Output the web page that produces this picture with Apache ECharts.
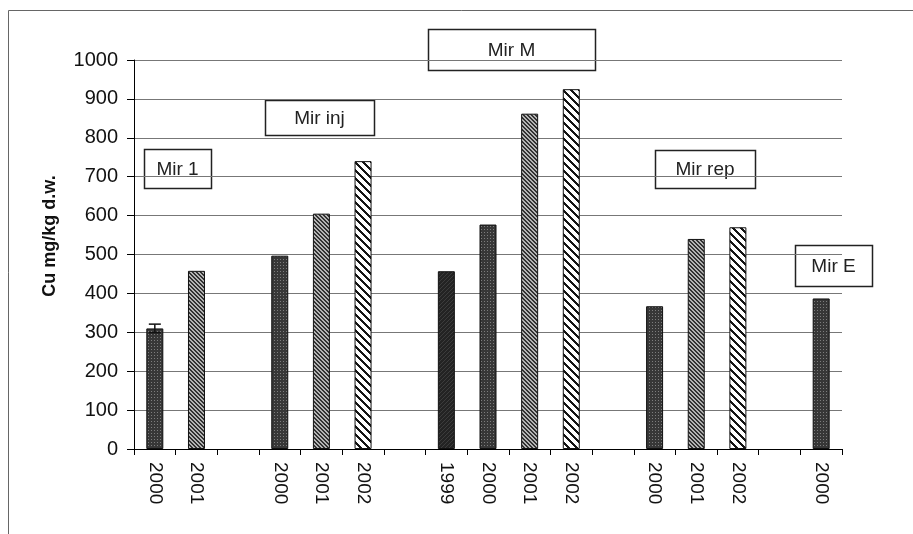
<!DOCTYPE html>
<html><head><meta charset="utf-8">
<script src="https://cdn.jsdelivr.net/npm/echarts@6/dist/echarts.min.js"></script>
<style>html,body{margin:0;padding:0;background:#fff}#c{width:913px;height:534px}</style>
</head><body><div id="c"></div>
<script>
const categories = ['2000','2001','','2000','2001','2002','','1999','2000','2001','2002','','2000','2001','2002','','2000'];
const values = [310,458,null,497,605,740,null,457,577,862,925,null,367,540,570,null,387];
const errorHalf = [11,null,null,null,null,null,null,null,null,null,null,null,null,null,null,null,null];
const groupLabels = ['Mir 1','Mir inj','Mir M','Mir rep','Mir E'];
const yAxisTitle = 'Cu mg/kg d.w.';

function makePattern(size, fn){
  const c = document.createElement('canvas'); c.width = size; c.height = size;
  const ctx = c.getContext('2d'); const img = ctx.createImageData(size,size);
  for(let y=0;y<size;y++)for(let x=0;x<size;x++){
    const v = fn(x,y); const i=(y*size+x)*4;
    img.data[i]=v;img.data[i+1]=v;img.data[i+2]=v;img.data[i+3]=255;
  }
  ctx.putImageData(img,0,0); return {image:c, repeat:'repeat'};
}
const patterns = {
  '1999': makePattern(4,(x,y)=> ((x+y)%4===0)?60:35),
  '2000': makePattern(3,(x,y)=> (x===1&&y===1)?125:55),
  '2001': makePattern(4,(x,y)=> ((((x-y)%4)+4)%4<2)?50:180),
  '2002': makePattern(8,(x,y)=> ((((x-y)%8)+8)%8<3)?20:255)
};
const FONT = '"Liberation Sans", Arial, sans-serif';

const chart = echarts.init(document.getElementById('c'));
const barData = values.map((v,i)=> v==null?null:{value:v,itemStyle:{color:patterns[categories[i]],borderColor:'#111',borderWidth:1}});
const errData = values.map((v,i)=> errorHalf[i]==null?null:[i, v-errorHalf[i], v+errorHalf[i]]).filter(d=>d);

const boxes = [
  {x:144,y:149,w:67,h:39,t:groupLabels[0]},
  {x:265,y:100,w:109,h:35,t:groupLabels[1]},
  {x:428,y:29,w:167,h:41,t:groupLabels[2]},
  {x:655,y:150,w:100,h:38,t:groupLabels[3]},
  {x:795,y:245,w:77,h:41,t:groupLabels[4]}
];
const graphic = [
  {type:'rect',shape:{x:8.5,y:10.5,width:930,height:560},style:{fill:'none',stroke:'#666',lineWidth:1},silent:true,z:-1},
  {type:'text',x:50,y:236,rotation:Math.PI/2,style:{text:yAxisTitle,fill:'#111',font:'bold 18px '+FONT,align:'center',verticalAlign:'middle'}}
];
boxes.forEach(b=>{
  graphic.push({type:'group',z:100,children:[
    {type:'rect',shape:{x:b.x+0.5,y:b.y+0.5,width:b.w,height:b.h},style:{fill:'#fff',stroke:'#222',lineWidth:1.5}},
    {type:'text',x:b.x+b.w/2,y:b.y+b.h/2+1,style:{text:b.t,fill:'#222',font:'19px '+FONT,align:'center',verticalAlign:'middle'}}
  ]});
});

chart.setOption({
  animation:false,
  backgroundColor:'#fff',
  grid:{left:134,right:71,top:60,bottom:85,containLabel:false},
  xAxis:{type:'category',data:categories,
    axisLine:{lineStyle:{color:'#000',width:1}},
    axisTick:{show:true,interval:0,length:6,lineStyle:{color:'#000'}},
    axisLabel:{interval:0,rotate:-90,margin:13,color:'#111',fontSize:19,fontFamily:FONT},
    splitLine:{show:false}},
  yAxis:{type:'value',min:0,max:1000,interval:100,
    axisLine:{show:true,lineStyle:{color:'#000'}},
    axisTick:{show:true,length:7,lineStyle:{color:'#000'}},
    axisLabel:{color:'#111',fontSize:20,margin:16,fontFamily:FONT,formatter:v=>String(v)},
    splitLine:{lineStyle:{color:'#777',width:1}}},
  series:[
    {type:'bar',data:barData,barWidth:17},
    {type:'custom',data:errData,z:10,renderItem:function(params,api){
      const x=api.value(0); const lo=api.coord([x,api.value(1)]); const hi=api.coord([x,api.value(2)]);
      const hw=6;
      return {type:'group',children:[
        {type:'line',shape:{x1:lo[0],y1:lo[1],x2:hi[0],y2:hi[1]},style:{stroke:'#111',lineWidth:1.5}},
        {type:'line',shape:{x1:hi[0]-hw,y1:hi[1],x2:hi[0]+hw,y2:hi[1]},style:{stroke:'#111',lineWidth:1.5}},
        {type:'line',shape:{x1:lo[0]-hw,y1:lo[1],x2:lo[0]+hw,y2:lo[1]},style:{stroke:'#111',lineWidth:1.5}}
      ]};
    }}
  ],
  graphic:graphic
});
</script></body></html>
